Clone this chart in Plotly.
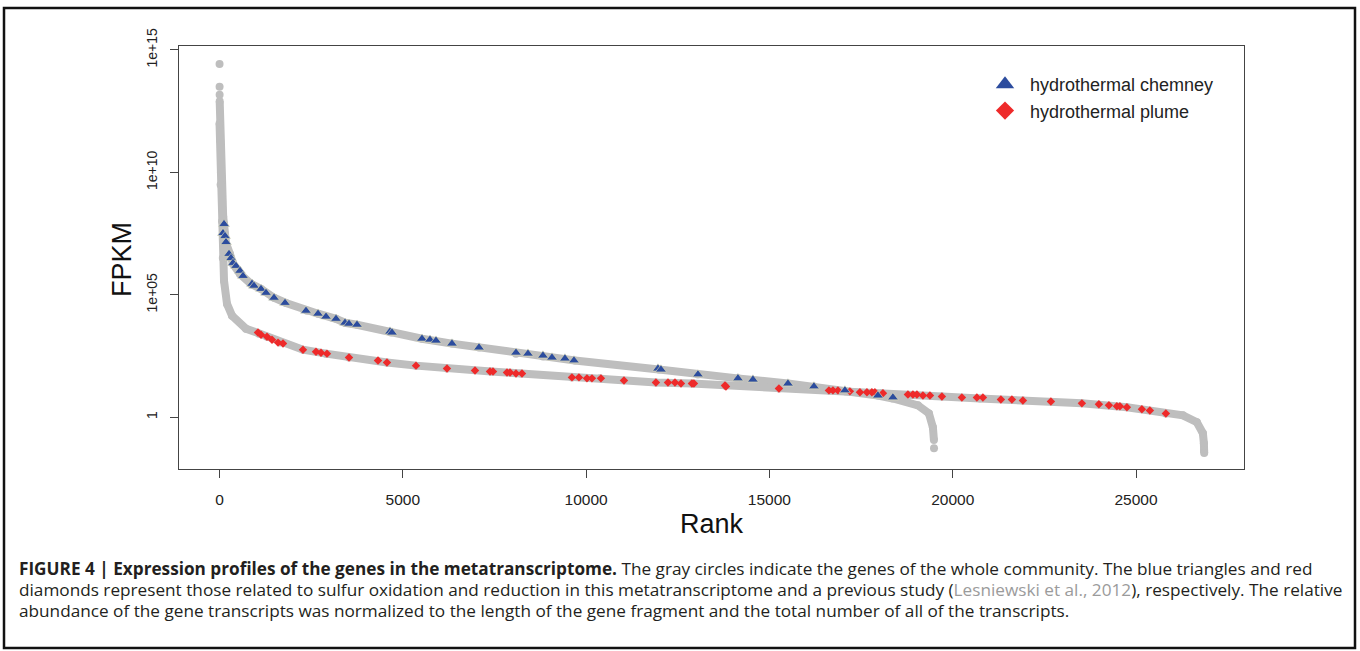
import plotly.graph_objects as go

# ---------------- data ----------------
# whole-community gene curves: rank vs log10(FPKM); None = visual gap between dots
chimney_curve_rank = [1, None, 2, None, 3, None, 5, 20, 40, 70, 100, 123, 150, 177, 286, 368, 559, 859,
                      1132, 1486, 1814, 2387, 2687, 3178, 3423, 3750, 4678, 5523, 6341, 7078, 8087, 8823,
                      9696, 11987, 13051, 14142, 15506, 16215, 17060, 17960, 18369, 19051, 19351, 19460,
                      19488, None, 19490]
chimney_curve_log = [14.43, None, 13.5, None, 13.17, None, 12.9, 11.3, 10.0, 8.8, 8.2, 7.89, 7.48, 7.11,
                     6.67, 6.26, 5.85, 5.45, 5.24, 4.88, 4.67, 4.35, 4.23, 4.02, 3.86, 3.78, 3.46, 3.21,
                     3.01, 2.85, 2.60, 2.48, 2.32, 1.95, 1.75, 1.59, 1.38, 1.26, 1.06, 0.89, 0.77, 0.49,
                     0.16, -0.41, -0.93, None, -1.26]

plume_curve_rank = [1, 30, 68, 90, 123, 205, 341, 723, 1077, 1296, 1650, 2277, 2905, 3532, 4568, 5360,
                    6205, 7405, 8223, 9614, 10378, 11905, 12887, 13788, 15260, 16624, 18070, 19706,
                    20742, 21915, 23524, 24752, 25815, 26279, 26661, 26825, 26852, 26856, 26860]
plume_curve_log = [12.0, 9.5, 8.0, 6.5, 5.57, 4.63, 4.15, 3.62, 3.41, 3.29, 3.05, 2.76, 2.60, 2.44, 2.24,
                   2.11, 1.99, 1.87, 1.79, 1.63, 1.59, 1.42, 1.38, 1.30, 1.18, 1.10, 0.98, 0.85, 0.77,
                   0.69, 0.57, 0.41, 0.16, 0.08, -0.20, -0.65, -1.06, -1.34, -1.46]

# sulfur genes: hydrothermal chimney (blue triangles)
chimney_rank = [123, 95, 150, 177, 259, 314, 368, 450, 559, 641, 886, 941, 1132, 1268, 1486, 1787, 2359,
                2687, 2905, 3178, 3423, 3532, 3750, 4650, 4705, 5523, 5741, 5905, 6341, 7078, 8087, 8414,
                8823, 9069, 9423, 9669, 11960, 12042, 13051, 14142, 14551, 15506, 16215, 17060, 17960,
                18369]
chimney_log = [7.89, 7.52, 7.40, 7.15, 6.67, 6.50, 6.30, 6.18, 5.98, 5.77, 5.45, 5.37, 5.24, 5.08, 4.88,
               4.67, 4.35, 4.23, 4.11, 4.02, 3.86, 3.82, 3.78, 3.50, 3.46, 3.21, 3.17, 3.13, 3.01, 2.85,
               2.64, 2.60, 2.52, 2.44, 2.40, 2.32, 1.99, 1.95, 1.75, 1.59, 1.54, 1.38, 1.26, 1.10, 0.89,
               0.81]

# sulfur genes: hydrothermal plume (red diamonds)
plume_rank = [1050, 1132, 1296, 1432, 1596, 1732, 2277, 2632, 2768, 2932, 3532, 4323, 4568, 5360, 6205,
              6969, 7378, 7460, 7842, 7924, 8087, 8251, 9614, 9805, 10023, 10160, 10405, 11033, 11905,
              12233, 12424, 12588, 12887, 12942, 13788, 13815, 15260, 16624, 16733, 16869, 17196, 17469,
              17660, 17796, 17878, 18097, 18779, 18915, 19024, 19188, 19379, 19706, 20251, 20660, 20824,
              21315, 21615, 21915, 22679, 23524, 23988, 24261, 24479, 24561, 24752, 25161, 25379, 25815]
plume_log = [3.46, 3.37, 3.29, 3.17, 3.05, 3.01, 2.76, 2.68, 2.64, 2.60, 2.44, 2.32, 2.24, 2.11, 1.99,
             1.91, 1.87, 1.87, 1.83, 1.83, 1.79, 1.79, 1.63, 1.63, 1.59, 1.59, 1.59, 1.50, 1.42, 1.42,
             1.42, 1.38, 1.38, 1.38, 1.30, 1.26, 1.18, 1.10, 1.10, 1.10, 1.06, 1.02, 1.02, 1.02, 1.02,
             0.98, 0.93, 0.93, 0.93, 0.89, 0.89, 0.85, 0.81, 0.81, 0.81, 0.73, 0.73, 0.69, 0.65, 0.57,
             0.53, 0.49, 0.45, 0.45, 0.41, 0.33, 0.28, 0.16]

x_tick_vals = [0, 5000, 10000, 15000, 20000, 25000]
x_tick_text = ["0", "5000", "10000", "15000", "20000", "25000"]
y_tick_vals = [1, 1e5, 1e10, 1e15]
y_tick_text = ["1", "1e+05", "1e+10", "1e+15"]

legend_names = ["hydrothermal chemney", "hydrothermal plume"]

caption_lines = [
    "<b>FIGURE 4 | Expression profiles of the genes in the metatranscriptome.</b> The gray circles indicate the genes of the whole community. The blue triangles and red",
    "diamonds represent those related to sulfur oxidation and reduction in this metatranscriptome and a previous study (<span style='color:#9b9b9b'>Lesniewski et al., 2012</span>), respectively. The relative",
    "abundance of the gene transcripts was normalized to the length of the gene fragment and the total number of all of the transcripts.",
]

# ---------------- styling ----------------
GRAY = "#BEBEBE"
BLUE = "#2C4C9E"
RED = "#EE2A2A"
FONT = "Liberation Sans, Arial, sans-serif"
CAP_FONT = "Open Sans, Liberation Sans, sans-serif"


def to_val(logs):
    return [None if v is None else 10 ** v for v in logs]


fig = go.Figure()

for rk, lg in [(chimney_curve_rank, chimney_curve_log), (plume_curve_rank, plume_curve_log)]:
    fig.add_trace(go.Scatter(x=rk, y=to_val(lg), mode="lines+markers",
                             line=dict(color=GRAY, width=8),
                             marker=dict(color=GRAY, size=8, symbol="circle"),
                             showlegend=False, hoverinfo="skip"))

fig.add_trace(go.Scatter(x=plume_rank, y=to_val(plume_log), mode="markers",
                         marker=dict(color=RED, size=6.5, symbol="diamond", line=dict(width=0)),
                         showlegend=False))
fig.add_trace(go.Scatter(x=chimney_rank, y=to_val(chimney_log), mode="markers",
                         marker=dict(color=BLUE, size=9.5, symbol="triangle-up",
                                     line=dict(width=0.6, color="#E6E2B8")),
                         showlegend=False))

# legend entries
fig.add_trace(go.Scatter(x=[None], y=[None], mode="markers", name=legend_names[0],
                         marker=dict(color=BLUE, size=16, symbol="triangle-up"), legendgroup="a"))
fig.add_trace(go.Scatter(x=[None], y=[None], mode="markers", name=legend_names[1],
                         marker=dict(color=RED, size=14, symbol="diamond"), legendgroup="b"))

# plot area in pixels: x 179..1244, y 46..469
L, R, T, B = 179, 1244, 46, 469
W, H = R - L, B - T


def px(xp):
    return (xp - L) / W


def py(yp):
    return (B - yp) / H


annotations = [
    dict(text="FPKM", x=px(122), y=py(260), xref="paper", yref="paper", showarrow=False,
         textangle=-90, font=dict(size=27, family=FONT, color="#111"), xanchor="center", yanchor="middle"),
    dict(text="Rank", x=px(711.5), y=py(524), xref="paper", yref="paper", showarrow=False,
         font=dict(size=27, family=FONT, color="#111"), xanchor="center", yanchor="middle"),
]
for i, line in enumerate(caption_lines):
    annotations.append(dict(text=line, x=px(17), y=py(568 + 21 * i), xref="paper", yref="paper",
                            showarrow=False, xanchor="left", yanchor="middle", align="left",
                            font=dict(size=17.2, family=CAP_FONT, color="#231F20")))

fig.update_layout(
    width=1360, height=651,
    margin=dict(l=L, r=1360 - R, t=T, b=651 - B, autoexpand=False),
    paper_bgcolor="white", plot_bgcolor="white",
    font=dict(family=FONT, color="#222"),
    annotations=annotations,
    showlegend=True,
    legend=dict(x=px(980), y=py(66), xanchor="left", yanchor="top", bgcolor="rgba(0,0,0,0)",
                font=dict(size=18, family=FONT, color="#222"), itemwidth=40, tracegroupgap=0,
                itemclick=False),
    shapes=[dict(type="rect", xref="paper", yref="paper", x0=px(4), x1=px(1355), y0=py(648), y1=py(8),
                 line=dict(color="#111", width=2.5), layer="above")],
)

fig.update_xaxes(range=[-1105, 27946], tickvals=x_tick_vals, ticktext=x_tick_text, ticks="outside",
                 ticklen=8, tickwidth=1.2, ticklabelstandoff=8,
                 tickcolor="#444", showline=True, mirror=True, linecolor="#444", linewidth=1.4,
                 showgrid=False, zeroline=False, tickfont=dict(size=15.5, family=FONT, color="#222"))
fig.update_yaxes(type="log", range=[-2.11, 15.16], tickvals=y_tick_vals, ticktext=y_tick_text,
                 tickangle=-90, ticks="outside", ticklen=8, tickwidth=1.2, tickcolor="#444",
                 ticklabelstandoff=7,
                 showline=True, mirror=True, linecolor="#444", linewidth=1.4, showgrid=False,
                 zeroline=False, tickfont=dict(size=14, family=FONT, color="#222"))

fig.write_html("out.html", config={"displayModeBar": False},
               post_script="document.body.style.margin='0';")
